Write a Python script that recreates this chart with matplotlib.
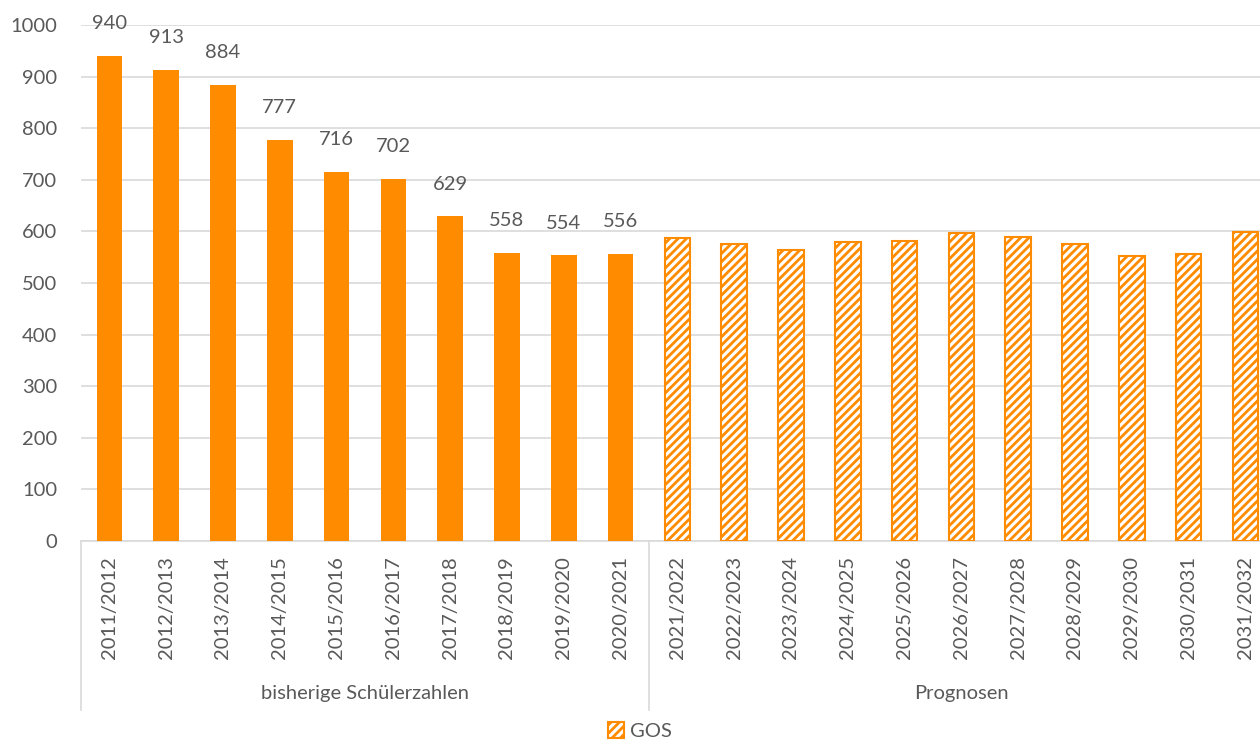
import matplotlib.pyplot as plt
from matplotlib.patches import Patch
import matplotlib as mpl

plt.rcParams['font.family'] = ['Lato', 'DejaVu Sans']
mpl.rcParams['hatch.linewidth'] = 2.0

# Schuljahre und Schülerzahlen (GOS)
years = ["2011/2012", "2012/2013", "2013/2014", "2014/2015", "2015/2016",
         "2016/2017", "2017/2018", "2018/2019", "2019/2020", "2020/2021",
         "2021/2022", "2022/2023", "2023/2024", "2024/2025", "2025/2026",
         "2026/2027", "2027/2028", "2028/2029", "2029/2030", "2030/2031",
         "2031/2032"]
actual = [940, 913, 884, 777, 716, 702, 629, 558, 554, 556]
forecast = [588, 575, 563, 579, 581, 597, 589, 575, 553, 556, 598]
groups = ["bisherige Schülerzahlen", "Prognosen"]
series_name = "GOS"

orange = "#FF8C00"
text_col = "#595959"
grid_col = "#D9D9D9"
fs = 14.5

fig = plt.figure(figsize=(12.6, 7.4), dpi=100)
spacing = 56.8 / 1260
ax = fig.add_axes([81 / 1260, 1 - 541 / 740, 21 * spacing, 516 / 740])

n_act = len(actual)
x_act = list(range(n_act))
x_fc = list(range(n_act, n_act + len(forecast)))

ax.bar(x_act, actual, width=0.45, color=orange, zorder=3)
ax.bar(x_fc, forecast, width=0.45, color="white", edgecolor=orange,
       hatch="////", linewidth=1.5, zorder=3)

for x, v in zip(x_act, actual):
    ax.annotate(str(v), (x, v), xytext=(0, 17), textcoords="offset points",
                ha="center", va="bottom", fontsize=fs, color=text_col)

ax.set_xlim(-0.5, len(years) - 0.5)
ax.set_ylim(0, 1000)
ax.set_yticks(range(0, 1001, 100))
ax.yaxis.grid(True, color=grid_col, linewidth=1.2, zorder=0)
ax.set_axisbelow(True)
for s in ["top", "right", "left"]:
    ax.spines[s].set_visible(False)
ax.spines["bottom"].set_color(grid_col)
ax.spines["bottom"].set_linewidth(1.2)

ax.set_xticks(range(len(years)))
ax.set_xticklabels(years, rotation=90, fontsize=fs, color=text_col)
ax.tick_params(axis="x", length=0, pad=11)
ax.tick_params(axis="y", length=0, labelsize=fs, labelcolor=text_col, pad=17)

# Gruppenbeschriftung unter der Achse
trans = ax.get_xaxis_transform()
bottom = -169 / 516
for xs in [-0.5, n_act - 0.5, len(years) - 0.5]:
    ax.plot([xs, xs], [0, bottom], transform=trans, color=grid_col,
            linewidth=1.2, clip_on=False)
ax.text((n_act - 1) / 2, -153 / 516, groups[0], transform=trans,
        ha="center", va="center", fontsize=fs, color=text_col)
ax.text(n_act + (len(forecast) - 1) / 2, -153 / 516, groups[1], transform=trans,
        ha="center", va="center", fontsize=fs, color=text_col)

handle = Patch(facecolor="white", edgecolor=orange, hatch="////", linewidth=1.5)
fig.legend([handle], [series_name], loc="center", bbox_to_anchor=(640 / 1260, 1 - 731 / 740),
           frameon=False, fontsize=fs, labelcolor=text_col, handlelength=0.8,
           handleheight=0.8, handletextpad=0.3, borderpad=0, borderaxespad=0)

fig.savefig("out.png", dpi=100, facecolor="white")
